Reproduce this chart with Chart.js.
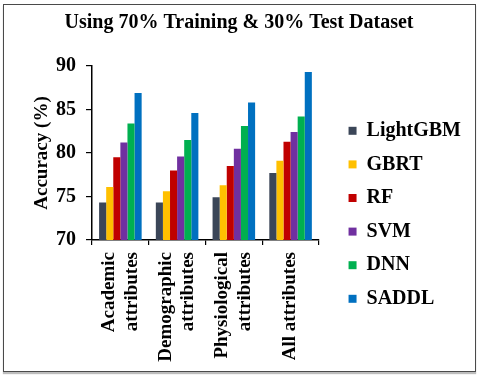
<!DOCTYPE html>
<html>
<head>
<meta charset="utf-8">
<script src="https://cdn.jsdelivr.net/npm/chart.js@4.4.0/dist/chart.umd.min.js"></script>
<style>
  html, body { margin: 0; padding: 0; background: #fff; }
  #wrap { position: relative; width: 480px; height: 385px; }
  #frame {
    position: absolute; left: 3px; top: 4px; width: 471px; height: 366px;
    border: 1.5px solid #4a4a4a; box-shadow: 0 2px 1px #bdbdbd; pointer-events: none;
  }
  canvas { position: absolute; left: 0; top: 0; }
</style>
</head>
<body>
<div id="wrap">
  <canvas id="accuracy-chart" width="480" height="385"></canvas>
  <div id="frame"></div>
</div>
<script>
// Chart data
const categories = [
    ['Academic', 'attributes'],
    ['Demographic', 'attributes'],
    ['Physiological', 'attributes'],
    'All attributes'
];
const lightgbm = [74.3, 74.3, 74.9, 77.7];
const gbrt = [76.1, 75.6, 76.3, 79.1];
const rf = [79.5, 78.0, 78.5, 81.3];
const svm = [81.2, 79.6, 80.5, 82.4];
const dnn = [83.4, 81.5, 83.1, 84.2];
const saddl = [86.9, 84.6, 85.8, 89.3];
const yTicks = [70, 75, 80, 85, 90];

const seriesNames = ['LightGBM', 'GBRT', 'RF', 'SVM', 'DNN', 'SADDL'];
const seriesValues = [lightgbm, gbrt, rf, svm, dnn, saddl];
const seriesColors = ['#3b4658', '#ffc000', '#c00000', '#7030a0', '#00b050', '#0070c0'];

const serif = '"Liberation Serif", "Times New Roman", serif';
Chart.defaults.font.family = serif;

const xLabelFont = { size: 19, lineHeight: 1.2 };

// Draw the rotated category labels centred on each tick (multi-line aware)
const centeredXLabels = {
    id: 'centeredXLabels',
    afterDraw(chart) {
        const scale = chart.scales.x;
        const ctx = chart.ctx;
        const gap = xLabelFont.size * xLabelFont.lineHeight;
        const yStart = scale.top + 12;
        ctx.save();
        ctx.fillStyle = '#000';
        ctx.font = 'bold ' + xLabelFont.size + 'px ' + serif;
        ctx.textAlign = 'right';
        ctx.textBaseline = 'middle';
        categories.forEach((label, i) => {
            const lines = Array.isArray(label) ? label : [label];
            const px = scale.getPixelForTick(i);
            lines.forEach((line, j) => {
                const x = px + (j - (lines.length - 1) / 2) * gap;
                ctx.save();
                ctx.translate(x, yStart);
                ctx.rotate(-Math.PI / 2);
                ctx.fillText(line, 0, 0);
                ctx.restore();
            });
        });
        ctx.restore();
    }
};

function renderAccuracyChart() {
    const canvas = document.getElementById('accuracy-chart');
    const ctx = canvas.getContext('2d');

    const datasets = seriesNames.map((name, i) => ({
        label: name,
        data: seriesValues[i],
        backgroundColor: seriesColors[i],
        borderWidth: 0,
        categoryPercentage: 0.75,
        barPercentage: 1.0
    }));

    new Chart(ctx, {
        type: 'bar',
        data: { labels: categories, datasets: datasets },
        plugins: [centeredXLabels],
        options: {
            responsive: false,
            animation: false,
            devicePixelRatio: 1,
            layout: { padding: { top: 6, left: 7, right: 9, bottom: 13 } },
            scales: {
                x: {
                    offset: true,
                    border: { display: true, color: '#000', width: 1.5 },
                    grid: { display: true, drawOnChartArea: false, offset: true, color: '#000', lineWidth: 1.2, tickLength: 5 },
                    ticks: { display: false },
                    // room for the rotated labels drawn by centeredXLabels
                    afterFit: axis => { axis.height = 132; }
                },
                y: {
                    min: 70,
                    max: 90,
                    afterBuildTicks: axis => { axis.ticks = yTicks.map(v => ({ value: v })); },
                    afterFit: axis => { axis.width = 85; },
                    border: { display: true, color: '#000', width: 1.5 },
                    grid: { display: true, drawOnChartArea: false, color: '#000', lineWidth: 1.2, tickLength: 6 },
                    ticks: {
                        color: '#000',
                        padding: 10,
                        font: { size: 20, weight: 'bold' }
                    },
                    title: {
                        display: true,
                        text: 'Accuracy (%)',
                        color: '#000',
                        padding: { top: 24, bottom: 2 },
                        font: { size: 19, weight: 'bold' }
                    }
                },
                // empty spacer between plot and legend
                spacer: {
                    type: 'linear',
                    position: 'right',
                    display: true,
                    grid: { display: false },
                    border: { display: false },
                    ticks: { display: false },
                    afterFit: axis => { axis.width = 16; }
                }
            },
            plugins: {
                title: {
                    display: true,
                    text: 'Using 70% Training & 30% Test Dataset',
                    color: '#000',
                    padding: { top: 5, bottom: 31 },
                    font: { size: 20, weight: 'bold' }
                },
                legend: {
                    position: 'right',
                    maxWidth: 200,
                    title: {
                        display: true,
                        text: ' ',
                        padding: 0,
                        font: { size: 43 }
                    },
                    labels: {
                        color: '#000',
                        boxWidth: 8,
                        boxHeight: 8,
                        padding: 13.6,
                        font: { size: 20, weight: 'bold' }
                    }
                },
                tooltip: { enabled: false }
            }
        }
    });
}

renderAccuracyChart();
</script>
</body>
</html>
